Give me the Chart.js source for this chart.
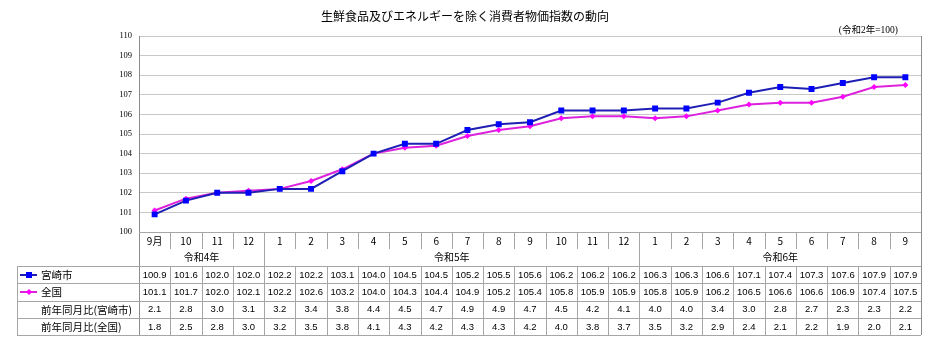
<!DOCTYPE html>
<html lang="ja">
<head>
<meta charset="utf-8">
<title>生鮮食品及びエネルギーを除く消費者物価指数の動向</title>
<script src="https://cdn.jsdelivr.net/npm/chart.js@4/dist/chart.umd.min.js"></script>
<style>
  html, body { margin: 0; padding: 0; background: #ffffff; }
  #wrap { position: relative; width: 932px; height: 340px; }
</style>
</head>
<body>
<div id="wrap"><canvas id="cpi" width="932" height="340"></canvas></div>
<script>
// 月ラベル（令和4年9月〜令和6年9月）
const months = ['9月', '10', '11', '12',
  '1', '2', '3', '4', '5', '6', '7', '8', '9', '10', '11', '12',
  '1', '2', '3', '4', '5', '6', '7', '8', '9'];
// 年の区切り（ラベルと月数）
const yearLabels = ['令和4年', '令和5年', '令和6年'];
const yearSpans = [4, 12, 9];

// 指数（令和2年=100）
const miyazaki = [100.9, 101.6, 102.0, 102.0, 102.2, 102.2, 103.1, 104.0, 104.5, 104.5, 105.2, 105.5, 105.6,
  106.2, 106.2, 106.2, 106.3, 106.3, 106.6, 107.1, 107.4, 107.3, 107.6, 107.9, 107.9];
const zenkoku = [101.1, 101.7, 102.0, 102.1, 102.2, 102.6, 103.2, 104.0, 104.3, 104.4, 104.9, 105.2, 105.4,
  105.8, 105.9, 105.9, 105.8, 105.9, 106.2, 106.5, 106.6, 106.6, 106.9, 107.4, 107.5];
// 前年同月比（％）
const yoyMiyazaki = [2.1, 2.8, 3.0, 3.1, 3.2, 3.4, 3.8, 4.4, 4.5, 4.7, 4.9, 4.9, 4.7, 4.5, 4.2, 4.1,
  4.0, 4.0, 3.4, 3.0, 2.8, 2.7, 2.3, 2.3, 2.2];
const yoyZenkoku = [1.8, 2.5, 2.8, 3.0, 3.2, 3.5, 3.8, 4.1, 4.3, 4.2, 4.3, 4.3, 4.2, 4.0, 3.8, 3.7,
  3.5, 3.2, 2.9, 2.4, 2.1, 2.2, 1.9, 2.0, 2.1];

const seriesNames = ['宮崎市', '全国'];
const rowNames = ['前年同月比(宮崎市)', '前年同月比(全国)'];
const yTicks = { min: 100, max: 110, step: 1 };

const chartTitle = '生鮮食品及びエネルギーを除く消費者物価指数の動向';
const baseNote = '(令和2年=100)';

const BLUE_LINE = '#1f1fb4';
const BLUE_MARK = '#0000ff';
const MAG_LINE = '#dd22dd';
const MAG_MARK = '#ff00ff';
const GRID = '#c8c8c8';
const TABLE_LINE = '#a6a6a6';
const JP = '"Noto Sans CJK JP", "Noto Sans", sans-serif';
const NUM = '"Liberation Sans", Arial, sans-serif';

// 表の行位置（キャンバス座標）
const tableLeft = 17;
const rowTops = [232, 249, 266, 283, 300.5, 318, 335];

const decorations = {
  id: 'decorations',
  beforeDraw(chart) {
    const ctx = chart.ctx;
    ctx.save();
    ctx.fillStyle = '#ffffff';
    ctx.fillRect(0, 0, chart.width, chart.height);
    ctx.restore();
  },
  afterDraw(chart) {
    const ctx = chart.ctx;
    const x = chart.scales.x;
    const area = chart.chartArea;
    const colW = x.getPixelForValue(1) - x.getPixelForValue(0);
    const edge = i => x.getPixelForValue(0) - colW / 2 + i * colW;
    const n = months.length;
    const bottom = rowTops[rowTops.length - 1];

    ctx.save();
    // 見出し
    ctx.fillStyle = '#000';
    ctx.textAlign = 'center';
    ctx.textBaseline = 'middle';
    ctx.font = '12px ' + JP;
    ctx.fillText(chartTitle, 465, 16);
    ctx.textAlign = 'right';
    ctx.font = '9.5px "Liberation Serif", "Noto Sans CJK JP", serif';
    ctx.fillText(baseNote, 898, 30);

    // グラフ枠
    ctx.strokeStyle = '#8c8c8c';
    ctx.lineWidth = 1;
    ctx.beginPath();
    ctx.moveTo(Math.round(area.left) + 0.5, area.top);
    ctx.lineTo(Math.round(area.left) + 0.5, bottom);
    ctx.moveTo(Math.round(area.right) + 0.5, area.top);
    ctx.lineTo(Math.round(area.right) + 0.5, bottom);
    ctx.stroke();

    // 表の罫線
    ctx.strokeStyle = TABLE_LINE;
    ctx.beginPath();
    // 横線
    ctx.moveTo(area.left, rowTops[0] + 0.5);
    ctx.lineTo(area.right, rowTops[0] + 0.5);
    for (let r = 2; r < rowTops.length; r++) {
      const yy = Math.round(rowTops[r]) + 0.5;
      ctx.moveTo(tableLeft, yy);
      ctx.lineTo(area.right, yy);
    }
    // 左端
    ctx.moveTo(tableLeft + 0.5, rowTops[2]);
    ctx.lineTo(tableLeft + 0.5, bottom);
    // 縦線
    const yearBreaks = [];
    let acc = 0;
    yearSpans.forEach(s => { acc += s; yearBreaks.push(acc); });
    for (let i = 1; i < n; i++) {
      const xx = Math.round(edge(i)) + 0.5;
      if (yearBreaks.includes(i)) {
        ctx.moveTo(xx, rowTops[0]);
        ctx.lineTo(xx, bottom);
      } else {
        ctx.moveTo(xx, rowTops[0] + 1);
        ctx.lineTo(xx, rowTops[1]);
        ctx.moveTo(xx, rowTops[2]);
        ctx.lineTo(xx, bottom);
      }
    }
    ctx.stroke();

    // 月
    ctx.fillStyle = '#000';
    ctx.textAlign = 'center';
    ctx.textBaseline = 'middle';
    ctx.font = '10px ' + JP;
    months.forEach((m, i) => {
      ctx.fillText(m, x.getPixelForValue(i), (rowTops[0] + rowTops[1]) / 2 + 1);
    });
    // 年
    let start = 0;
    yearLabels.forEach((lab, k) => {
      const cx = (edge(start) + edge(start + yearSpans[k])) / 2;
      ctx.fillText(lab, cx, (rowTops[1] + rowTops[2]) / 2);
      start += yearSpans[k];
    });

    // 数値
    const rows = [miyazaki, zenkoku, yoyMiyazaki, yoyZenkoku];
    ctx.font = '9.5px ' + NUM;
    rows.forEach((vals, r) => {
      const cy = (rowTops[r + 2] + rowTops[r + 3]) / 2 + 0.5;
      vals.forEach((v, i) => {
        ctx.fillText(v.toFixed(1), x.getPixelForValue(i), cy);
      });
    });

    // 行見出し
    ctx.textAlign = 'left';
    ctx.font = '10.5px ' + JP;
    const labelX = 41;
    [seriesNames[0], seriesNames[1], rowNames[0], rowNames[1]].forEach((t, r) => {
      const cy = (rowTops[r + 2] + rowTops[r + 3]) / 2 + 0.5;
      ctx.fillText(t, labelX, cy);
    });

    // 凡例記号
    const legendY = r => Math.round((rowTops[r + 2] + rowTops[r + 3]) / 2);
    ctx.lineWidth = 2;
    ctx.strokeStyle = BLUE_LINE;
    ctx.beginPath();
    ctx.moveTo(20, legendY(0));
    ctx.lineTo(37, legendY(0));
    ctx.stroke();
    ctx.fillStyle = BLUE_MARK;
    ctx.fillRect(26, legendY(0) - 3, 6, 6);
    ctx.strokeStyle = MAG_LINE;
    ctx.beginPath();
    ctx.moveTo(20, legendY(1));
    ctx.lineTo(37, legendY(1));
    ctx.stroke();
    ctx.fillStyle = MAG_MARK;
    ctx.beginPath();
    ctx.moveTo(29, legendY(1) - 3);
    ctx.lineTo(32, legendY(1));
    ctx.lineTo(29, legendY(1) + 3);
    ctx.lineTo(26, legendY(1));
    ctx.closePath();
    ctx.fill();
    ctx.restore();
  }
};

new Chart(document.getElementById('cpi'), {
  type: 'line',
  data: {
    labels: months,
    datasets: [
      {
        label: seriesNames[1],
        data: zenkoku,
        borderColor: MAG_LINE,
        backgroundColor: MAG_MARK,
        borderWidth: 2,
        pointStyle: 'rectRot',
        pointRadius: 3,
        pointBorderWidth: 0,
        pointBackgroundColor: MAG_MARK,
        tension: 0,
        order: 2
      },
      {
        label: seriesNames[0],
        data: miyazaki,
        borderColor: BLUE_LINE,
        backgroundColor: BLUE_MARK,
        borderWidth: 2,
        pointStyle: 'rect',
        pointRadius: 4.2,
        pointBorderWidth: 0,
        pointBackgroundColor: BLUE_MARK,
        tension: 0,
        order: 1
      }
    ]
  },
  options: {
    responsive: false,
    animation: false,
    devicePixelRatio: 1,
    layout: { padding: { top: 36, right: 11, bottom: 108, left: 0 } },
    plugins: {
      legend: { display: false },
      title: { display: false },
      tooltip: { enabled: false }
    },
    scales: {
      x: {
        display: false,
        offset: true
      },
      y: {
        min: yTicks.min,
        max: yTicks.max,
        afterFit(scale) { scale.width = 139; },
        ticks: {
          stepSize: yTicks.step,
          padding: 7,
          color: '#000',
          font: { family: '"Liberation Serif", serif', size: 8.5 }
        },
        grid: { color: GRID, drawTicks: false, lineWidth: 1 },
        border: { display: false }
      }
    }
  },
  plugins: [decorations]
});
</script>
</body>
</html>
